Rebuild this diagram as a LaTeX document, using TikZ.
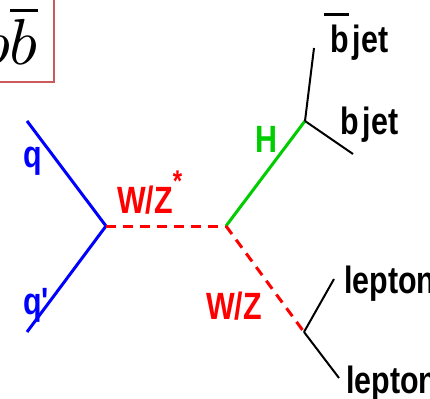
\documentclass[tikz,border=0pt]{standalone}
\usepackage{fontspec}
\newfontfamily\lblfont[FakeStretch=0.8]{Liberation Sans}
\definecolor{boxred}{RGB}{205,90,90}
\definecolor{hgreen}{RGB}{0,205,0}
\tikzset{
  lbl/.style={font=\lblfont\bfseries\fontsize{38}{38}\selectfont, inner sep=0pt, anchor=base west},
  quark/.style={draw=blue, line width=3pt},
  boson/.style={draw=red, line width=3pt, dash pattern=on 10pt off 7pt},
  higgs/.style={draw=hgreen, line width=3pt},
  decay/.style={draw=black, line width=2pt},
}
\begin{document}
\begin{tikzpicture}[x=1pt,y=-1pt]
\useasboundingbox (0,0) rectangle (430,398);
\clip (0,0) rectangle (430,398);
% title box
\draw[boxred, line width=2pt, fill=white] (-80,-20) rectangle (54,82);
\node[inner sep=0pt, anchor=base east] (title) at (38,65) {\scalebox{6.5}{$b\overline{b}$}};
% vertices
\coordinate (qin) at (27,121);
\coordinate (qpin) at (27,332);
\coordinate (v1) at (106,226);
\coordinate (v2) at (226,226);
\coordinate (vh) at (305,121);
\coordinate (vz) at (304,332);
\coordinate (bbar) at (314,48);
\coordinate (bj) at (353,154);
\coordinate (l1) at (334,279);
\coordinate (l2) at (339,378);
% lines
\draw[quark] (qin) -- (v1);
\draw[quark] (qpin) -- (v1);
\draw[boson] (v1) -- (v2);
\draw[higgs] (v2) -- (vh);
\draw[boson] (v2) -- (vz);
\draw[decay] (vh) -- (bbar);
\draw[decay] (vh) -- (bj);
\draw[decay] (vz) -- (l1);
\draw[decay] (vz) -- (l2);
% labels
\node[lbl, text=blue] (lq) at (23,167) {q};
\node[lbl, text=blue] (lqp) at (23,314) {q'};
\node[lbl, text=red] (lwzs) at (117,213) {W/Z{\fontsize{30}{30}\selectfont\raisebox{22pt}{*}}};
\node[lbl, text=hgreen] (lh) at (255,153) {H};
\node[lbl, text=red] (lwz) at (206,319) {W/Z};
\node[lbl] (lbbar) at (330,53) {\spaceskip=4pt\relax\makebox[0pt][l]{\hspace{-6pt}\rule[37pt]{25pt}{3pt}}b jet};
\node[lbl] (lbj) at (340,135) {\spaceskip=4pt\relax b jet};
\node[lbl] (ll1) at (344,293) {lepton};
\node[lbl] (ll2) at (346,393) {lepton};
\end{tikzpicture}
\end{document}
